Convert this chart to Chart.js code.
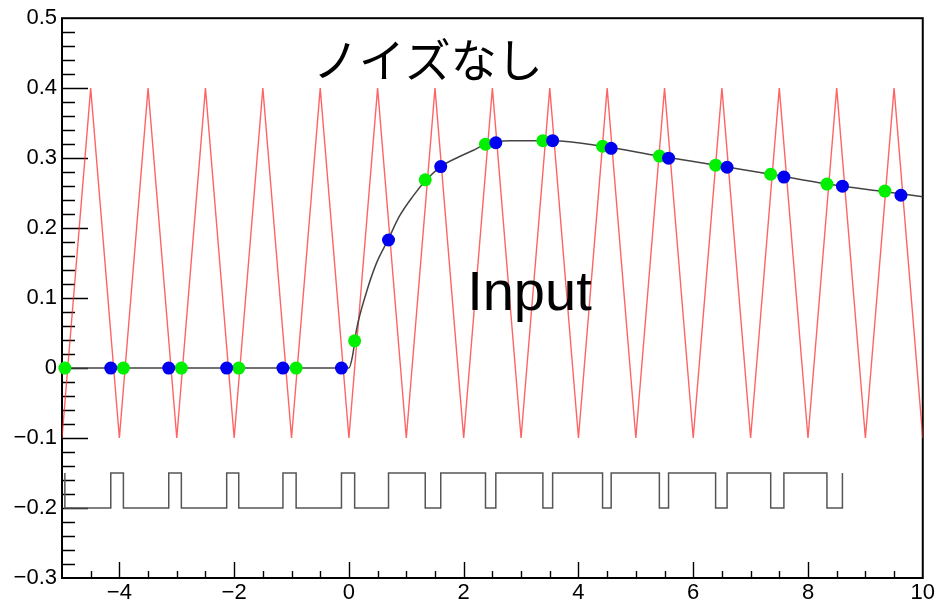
<!DOCTYPE html>
<html>
<head>
<meta charset="utf-8">
<script src="https://cdn.jsdelivr.net/npm/chart.js@4"></script>
<style>
  body { margin: 0; background: #fff; }
  #wrap { width: 937px; height: 603px; }
</style>
</head>
<body>
<div id="wrap"><canvas id="plot" width="937" height="603"></canvas></div>
<script>
// axis tick labels
var xTickValues = [-4, -2, 0, 2, 4, 6, 8, 10];
var yTickValues = [-0.3, -0.2, -0.1, 0, 0.1, 0.2, 0.3, 0.4, 0.5];

// input wave (triangle), vertices
var waveX = [-5, -4.5, -4, -3.5, -3, -2.5, -2, -1.5, -1, -0.5, 0, 0.5, 1, 1.5, 2, 2.5,
             3, 3.5, 4, 4.5, 5, 5.5, 6, 6.5, 7, 7.5, 8, 8.5, 9, 9.5, 10];
var waveY = [-0.1, 0.4, -0.1, 0.4, -0.1, 0.4, -0.1, 0.4, -0.1, 0.4, -0.1, 0.4, -0.1, 0.4, -0.1, 0.4,
             -0.1, 0.4, -0.1, 0.4, -0.1, 0.4, -0.1, 0.4, -0.1, 0.4, -0.1, 0.4, -0.1, 0.4, -0.1];

// filtered response
var respX = [-5, 0, 0.06, 0.13, 0.3, 0.48, 0.68, 0.88, 1.11, 1.35, 1.6, 1.92, 2.16, 2.39,
             2.8, 3.55, 4.42, 5.4, 6.4, 7.35, 8.33, 9.34, 10];
var respY = [0, 0, 0.016, 0.054, 0.107, 0.150, 0.183, 0.217, 0.245, 0.269, 0.288, 0.302, 0.311, 0.320,
             0.325, 0.325, 0.317, 0.303, 0.290, 0.277, 0.263, 0.252, 0.245];

// sample points
var greenX = [-4.95, -3.93, -2.92, -1.92, -0.92, 0.10, 1.33, 2.38, 3.38, 4.42, 5.41, 6.39, 7.35, 8.33, 9.34];
var greenY = [0, 0, 0, 0, 0, 0.039, 0.269, 0.320, 0.325, 0.317, 0.303, 0.290, 0.277, 0.263, 0.253];
var blueX = [-4.15, -3.14, -2.13, -1.15, -0.13, 0.69, 1.60, 2.56, 3.55, 4.57, 5.57, 6.59, 7.58, 8.60, 9.62];
var blueY = [0, 0, 0, 0, 0, 0.183, 0.288, 0.322, 0.325, 0.314, 0.300, 0.287, 0.273, 0.260, 0.247];

// gate signal: high from each blue sample to the next green one
var gateLow = -0.2;
var gateHigh = -0.15;
var gateEdges = 14;

function pts(xs, ys) {
  var out = [];
  for (var i = 0; i < xs.length; i++) out.push({ x: xs[i], y: ys[i] });
  return out;
}

var gate = [{ x: greenX[0], y: gateHigh }];
for (var k = 0; k < gateEdges; k++) {
  gate.push({ x: greenX[k], y: gateLow });
  gate.push({ x: blueX[k], y: gateLow });
  gate.push({ x: blueX[k], y: gateHigh });
  if (k + 1 < gateEdges) {
    gate.push({ x: greenX[k + 1], y: gateHigh });
  }
}

function fmt(v) {
  if (Math.abs(v) < 1e-9) return '0';
  var s = Number.isInteger(v) ? String(Math.abs(v)) : Math.abs(v).toFixed(1);
  return (v < 0 ? '\u2212' : '') + s;
}

// ROOT style frame with inward ticks, plus the text labels
var frameTicks = {
  id: 'frameTicks',
  beforeDatasetsDraw: function(chart) {
    var ctx = chart.ctx, a = chart.chartArea;
    var xs = chart.scales.x, ys = chart.scales.y;
    ctx.save();
    ctx.strokeStyle = '#000';
    ctx.lineWidth = 1.4;
    ctx.beginPath();
    for (var i = 1; i < 40; i++) {
      var v = -0.3 + i * 0.02;
      var py = Math.round(ys.getPixelForValue(v)) + 0.5;
      var len = (i % 5 == 0) ? 26 : 13;
      ctx.moveTo(a.left, py);
      ctx.lineTo(a.left + len, py);
    }
    for (var j = 1; j < 30; j++) {
      var u = -5 + j * 0.5;
      var px = Math.round(xs.getPixelForValue(u)) + 0.5;
      var len2 = (u % 2 == 0) ? 16 : 7;
      ctx.moveTo(px, a.bottom);
      ctx.lineTo(px, a.bottom - len2);
    }
    ctx.stroke();
    ctx.lineWidth = 2;
    ctx.strokeRect(a.left, a.top, a.right - a.left, a.bottom - a.top);
    ctx.restore();
  },
  afterDatasetsDraw: function(chart) {
    var ctx = chart.ctx;
    var xs = chart.scales.x, ys = chart.scales.y;
    ctx.save();
    ctx.fillStyle = '#000';
    ctx.textAlign = 'left';
    ctx.textBaseline = 'middle';
    ctx.font = '46px "Noto Sans CJK JP"';
    ctx.fillText('ノイズなし', xs.getPixelForValue(-0.63), ys.getPixelForValue(0.441));
    ctx.textBaseline = 'alphabetic';
    ctx.font = '56px "Liberation Sans"';
    ctx.fillText('Input', xs.getPixelForValue(2.06), ys.getPixelForValue(0.083));
    ctx.restore();
  }
};

var tickFont = { family: 'Liberation Sans', size: 22 };

new Chart(document.getElementById('plot'), {
  type: 'line',
  data: {
    datasets: [{
      data: pts(waveX, waveY),
      borderColor: 'rgba(255,40,40,0.72)',
      borderWidth: 1.4,
      pointRadius: 0,
      order: 5
    }, {
      data: pts(respX, respY),
      borderColor: '#444',
      borderWidth: 1.5,
      pointRadius: 0,
      cubicInterpolationMode: 'monotone',
      order: 4
    }, {
      data: gate,
      borderColor: '#555',
      borderWidth: 1.5,
      pointRadius: 0,
      order: 3
    }, {
      data: pts(greenX, greenY),
      showLine: false,
      pointRadius: 6.5,
      pointBorderWidth: 0,
      pointBackgroundColor: '#00f000',
      clip: false,
      order: 2
    }, {
      data: pts(blueX, blueY),
      showLine: false,
      pointRadius: 6.5,
      pointBorderWidth: 0,
      pointBackgroundColor: '#0000f0',
      clip: false,
      order: 1
    }]
  },
  options: {
    responsive: false,
    animation: false,
    layout: { padding: { top: 18, right: 13, left: 0, bottom: 0 } },
    plugins: { legend: { display: false }, tooltip: { enabled: false } },
    scales: {
      x: {
        type: 'linear', min: -5, max: 10,
        grid: { display: false, drawTicks: false },
        border: { display: false },
        afterBuildTicks: function(s) { s.ticks = xTickValues.map(function(v) { return { value: v }; }); },
        afterFit: function(s) { s.height = 25; },
        ticks: { autoSkip: false, maxRotation: 0, padding: 2, font: tickFont, color: '#000', callback: fmt }
      },
      y: {
        type: 'linear', min: -0.3, max: 0.5,
        grid: { display: false, drawTicks: false },
        border: { display: false },
        afterBuildTicks: function(s) { s.ticks = yTickValues.map(function(v) { return { value: v }; }); },
        afterFit: function(s) { s.width = 62; },
        ticks: { autoSkip: false, padding: 5, font: tickFont, color: '#000', callback: fmt }
      }
    }
  },
  plugins: [frameTicks]
});
</script>
</body>
</html>
